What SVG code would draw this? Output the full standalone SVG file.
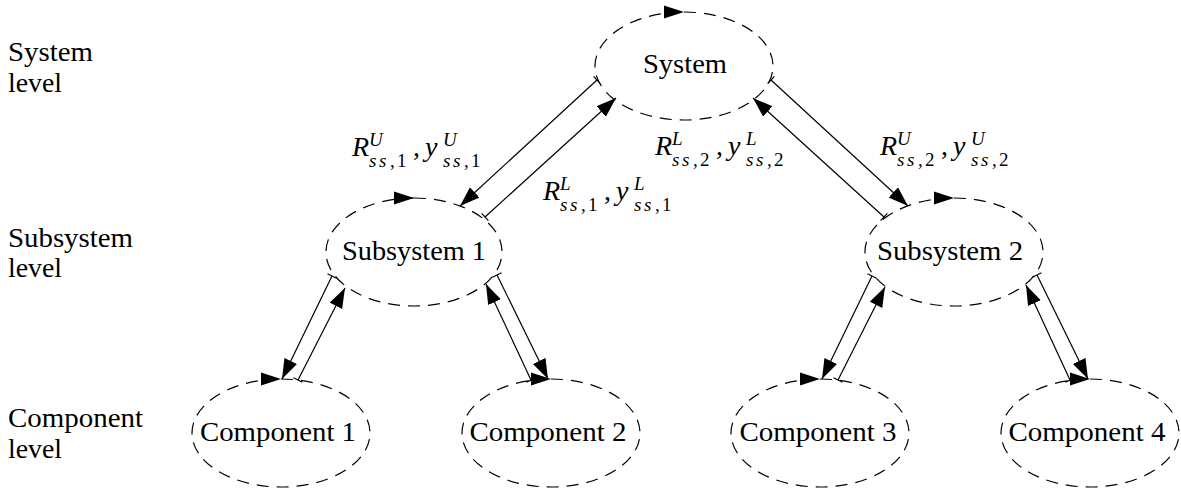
<svg xmlns="http://www.w3.org/2000/svg" width="1181" height="490" viewBox="0 0 1181 490">
<style>
  .node { fill: none; stroke: #000; stroke-width: 1.2; stroke-dasharray: 12 8; }
  .head { fill: #000; stroke: none; }
  text { font-family: 'Liberation Serif', 'DejaVu Serif', 'Noto Serif', 'Tinos', 'Times New Roman', 'Nimbus Roman', 'FreeSerif', 'Latin Modern Roman', 'CMU Serif', serif; fill: #000; }
  .lbl { font-size: 28px; }
  .nl { text-anchor: middle; }
  .conn { stroke: #000; stroke-width: 1.2; fill: none; marker-start: url(#bar); marker-end: url(#arr); }
  .m { font-size: 28px; }
  .it { font-style: italic; }
  .s { font-size: 19px; }
</style>
<defs>
  <marker id="arr" markerUnits="userSpaceOnUse" markerWidth="22" markerHeight="16" refX="20" refY="7" orient="auto">
    <path d="M0,0 L20,7 L0,14 Z" fill="#000"/>
  </marker>
  <marker id="bar" markerUnits="userSpaceOnUse" markerWidth="4" markerHeight="14" refX="2" refY="7" orient="auto">
    <path d="M2,2 V12" stroke="#000" stroke-width="1.2"/>
  </marker>
</defs>
<rect width="1181" height="490" fill="#fff"/>

<g id="level-labels">
  <text class="lbl" x="8" y="61" textLength="85" lengthAdjust="spacingAndGlyphs">System</text>
  <text class="lbl" x="8" y="92" textLength="54" lengthAdjust="spacingAndGlyphs">level</text>
  <text class="lbl" x="8" y="247" textLength="125" lengthAdjust="spacingAndGlyphs">Subsystem</text>
  <text class="lbl" x="8" y="277" textLength="54" lengthAdjust="spacingAndGlyphs">level</text>
  <text class="lbl" x="8" y="427" textLength="135" lengthAdjust="spacingAndGlyphs">Component</text>
  <text class="lbl" x="8" y="458" textLength="54" lengthAdjust="spacingAndGlyphs">level</text>
</g>

<g id="system">
  <path class="node" d="M684,12 A89,54 0 1 1 684,120 A89,54 0 1 1 684,12"/>
  <polygon class="head" points="664,5.5 684,12 664,18.5"/>
  <text class="lbl nl" x="685" y="73" textLength="84" lengthAdjust="spacingAndGlyphs">System</text>
</g>

<g id="subsystem1">
  <path class="node" d="M414,198 A88,54 0 1 1 414,306 A88,54 0 1 1 414,198"/>
  <polygon class="head" points="394,191.5 414,198 394,204.5"/>
  <text class="lbl nl" x="414" y="260" textLength="144" lengthAdjust="spacingAndGlyphs">Subsystem 1</text>
</g>

<g id="subsystem2">
  <path class="node" d="M954,198 A89,54 0 1 1 954,306 A89,54 0 1 1 954,198"/>
  <polygon class="head" points="934,191.5 954,198 934,204.5"/>
  <text class="lbl nl" x="950" y="260" textLength="146" lengthAdjust="spacingAndGlyphs">Subsystem 2</text>
</g>

<g id="component1">
  <path class="node" d="M281,379 A89,54 0 1 1 281,487 A89,54 0 1 1 281,379"/>
  <polygon class="head" points="261,372.5 281,379 261,385.5"/>
  <text class="lbl nl" x="278" y="441" textLength="156" lengthAdjust="spacingAndGlyphs">Component 1</text>
</g>

<g id="component2">
  <path class="node" d="M551,379 A89,54 0 1 1 551,487 A89,54 0 1 1 551,379"/>
  <polygon class="head" points="531,372.5 551,379 531,385.5"/>
  <text class="lbl nl" x="548" y="441" textLength="157" lengthAdjust="spacingAndGlyphs">Component 2</text>
</g>

<g id="component3">
  <path class="node" d="M820,379 A89,54 0 1 1 820,487 A89,54 0 1 1 820,379"/>
  <polygon class="head" points="800,372.5 820,379 800,385.5"/>
  <text class="lbl nl" x="818" y="441" textLength="157" lengthAdjust="spacingAndGlyphs">Component 3</text>
</g>

<g id="component4">
  <path class="node" d="M1090,379 A89,54 0 1 1 1090,487 A89,54 0 1 1 1090,379"/>
  <polygon class="head" points="1070,372.5 1090,379 1070,385.5"/>
  <text class="lbl nl" x="1087" y="441" textLength="157" lengthAdjust="spacingAndGlyphs">Component 4</text>
</g>

<g id="connectors">
  <line class="conn" x1="597" y1="80" x2="460" y2="206"/>
  <line class="conn" x1="485" y1="217" x2="616" y2="98"/>
  <line class="conn" x1="771" y1="80" x2="908" y2="206"/>
  <line class="conn" x1="884" y1="217" x2="753" y2="98"/>
  <line class="conn" x1="332" y1="276" x2="282" y2="379"/>
  <line class="conn" x1="298" y1="380" x2="345" y2="288"/>
  <line class="conn" x1="497" y1="275" x2="548" y2="379"/>
  <line class="conn" x1="531" y1="380" x2="486" y2="284"/>
  <line class="conn" x1="872" y1="276" x2="822" y2="379"/>
  <line class="conn" x1="838" y1="380" x2="885" y2="287"/>
  <line class="conn" x1="1037" y1="275" x2="1088" y2="379"/>
  <line class="conn" x1="1070" y1="380" x2="1026" y2="285"/>
</g>

<g id="edge-labels">
  <text class="m" y="156"><tspan class="it" x="352">R</tspan><tspan class="it s" x="369" y="146">U</tspan><tspan class="s" x="369 379 390 397" y="167"><tspan class="it">ss</tspan>,1</tspan><tspan x="413" y="156">,</tspan><tspan class="it" x="425">y</tspan><tspan class="it s" x="443" y="146">U</tspan><tspan class="s" x="443 453 464 471" y="167"><tspan class="it">ss</tspan>,1</tspan></text>
  <text class="m" y="200"><tspan class="it" x="543">R</tspan><tspan class="it s" x="560" y="190">L</tspan><tspan class="s" x="560 570 581 588" y="211"><tspan class="it">ss</tspan>,1</tspan><tspan x="604" y="200">,</tspan><tspan class="it" x="616">y</tspan><tspan class="it s" x="634" y="190">L</tspan><tspan class="s" x="634 644 655 662" y="211"><tspan class="it">ss</tspan>,1</tspan></text>
  <text class="m" y="155"><tspan class="it" x="655">R</tspan><tspan class="it s" x="672" y="145">L</tspan><tspan class="s" x="672 682 693 700" y="166"><tspan class="it">ss</tspan>,2</tspan><tspan x="716" y="155">,</tspan><tspan class="it" x="728">y</tspan><tspan class="it s" x="746" y="145">L</tspan><tspan class="s" x="746 756 767 774" y="166"><tspan class="it">ss</tspan>,2</tspan></text>
  <text class="m" y="155"><tspan class="it" x="880">R</tspan><tspan class="it s" x="897" y="145">U</tspan><tspan class="s" x="897 907 918 925" y="166"><tspan class="it">ss</tspan>,2</tspan><tspan x="941" y="155">,</tspan><tspan class="it" x="953">y</tspan><tspan class="it s" x="971" y="145">U</tspan><tspan class="s" x="971 981 992 999" y="166"><tspan class="it">ss</tspan>,2</tspan></text>
</g>
</svg>
